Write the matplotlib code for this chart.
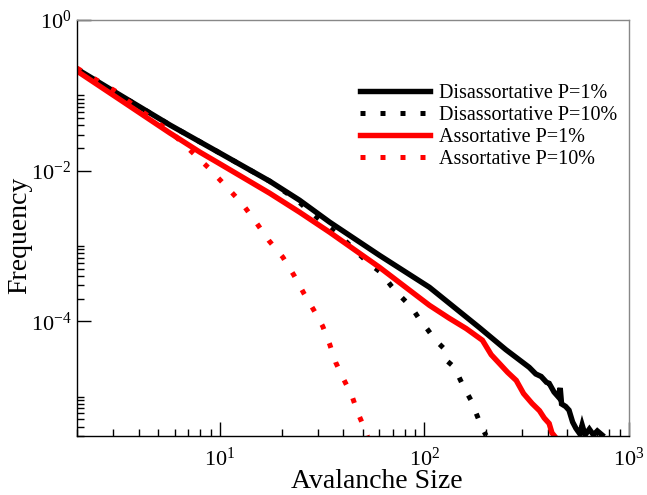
import matplotlib
matplotlib.use("Agg")
import matplotlib.pyplot as plt
from matplotlib.ticker import FixedLocator, LogFormatterSciNotation, NullFormatter
import numpy as np

plt.rcParams['font.family'] = ['Liberation Serif', 'DejaVu Serif']
plt.rcParams['mathtext.fontset'] = 'custom'
plt.rcParams['mathtext.rm'] = 'Liberation Serif'
plt.rcParams['axes.unicode_minus'] = False

# Disassortative P=1%
dis1_x = [2.0, 3.25, 5.7, 10, 17.5, 24.5, 34.4, 60.3, 105.7, 185, 250, 325, 350, 372, 395,
          407, 430, 450, 461, 468, 490, 509, 530, 550, 575, 590, 610, 640, 670, 700, 738]
dis1_y = [0.223, 0.1007, 0.0403, 0.0171, 0.00725, 0.00405, 0.00207, 7.5e-4, 2.83e-4, 8.3e-5,
          4.2e-5, 2.45e-5, 2.0e-5, 1.85e-5, 1.55e-5, 1.5e-5, 1.15e-5, 1.0e-5, 1.3e-5, 8.0e-6,
          7.4e-6, 6.6e-6, 4.6e-6, 3.8e-6, 3.2e-6, 4.2e-6, 3.1e-6, 3.7e-6, 3.1e-6, 3.5e-6, 3.1e-6]

# Disassortative P=10%
dis10_x = [2.0, 3.25, 5.7, 10, 17.5, 23.8, 28.1, 33.7, 39.8, 45.6, 52.7, 61.0, 69.0, 76.4,
           86.5, 94.6, 103.5, 113.2, 124, 128, 140, 155, 169, 179, 190, 200]
dis10_y = [0.223, 0.1007, 0.0403, 0.0171, 0.00725, 4.05e-3, 2.72e-3, 1.83e-3, 1.27e-3,
           8.8e-4, 6.1e-4, 4.48e-4, 2.92e-4, 2.15e-4, 1.53e-4, 1.06e-4, 7.8e-5, 5.6e-5,
           4.4e-5, 3.03e-5, 2.45e-5, 1.37e-5, 8.9e-6, 6.0e-6, 4.0e-6, 3.05e-6]

# Assortative P=1%
as1_x = [2.0, 3.25, 5.7, 7.98, 10, 17.5, 24.5, 34.4, 60.3, 105.7, 132, 160, 192, 212, 232,
         255, 281, 305, 336, 365, 385, 407, 420, 430]
as1_y = [0.21, 0.0873, 0.0315, 0.0176, 0.0123, 0.00502, 0.00281, 0.00152, 5.2e-4, 1.63e-4,
         1.1e-4, 8.0e-5, 5.6e-5, 3.6e-5, 2.77e-5, 2.1e-5, 1.64e-5, 1.1e-5, 8.1e-6, 6.5e-6,
         5.2e-6, 4.4e-6, 3.3e-6, 3.05e-6]

# Assortative P=10%
as10_x = [2.0, 2.45, 3.08, 3.77, 5.83, 7.14, 8.83, 10.7, 12.9, 15.0, 17.3, 20.3, 23.0, 25.7,
          28.8, 31.8, 34.4, 36.8, 40.3, 44.1, 47.1, 50.9, 52.7]
as10_y = [0.230, 0.164, 0.1138, 0.0742, 0.0315, 0.0187, 0.0108, 0.00622, 0.00359, 0.00207,
          0.00119, 7.1e-4, 4.09e-4, 2.36e-4, 1.40e-4, 8.6e-5, 4.95e-5, 2.85e-5, 1.69e-5,
          1.04e-5, 6.2e-6, 3.8e-6, 2.96e-6]

labels = ["Disassortative P=1%", "Disassortative P=10%", "Assortative P=1%", "Assortative P=10%"]

fig = plt.figure(figsize=(6.47, 4.95), dpi=100)
ax = fig.add_axes([77/647, 1-436/495, 552/647, 416/495])

lw_solid = 3.9
lw_dot = 3.6
ax.plot(dis1_x, dis1_y, color='black', lw=lw_solid, label=labels[0], solid_joinstyle='miter')
ax.plot(dis10_x, dis10_y, color='black', lw=lw_dot, ls=(0, (1, 3)), label=labels[1])
ax.plot(as1_x, as1_y, color='#ff0000', lw=lw_solid, label=labels[2], solid_joinstyle='miter')
ax.plot(as10_x, as10_y, color='#ff0000', lw=lw_dot, ls=(0, (1, 3)), label=labels[3])

ax.set_xscale('log')
ax.set_yscale('log')
ax.set_xlim(2, 1000)
ax.set_ylim(3e-6, 1)

ax.yaxis.set_major_locator(FixedLocator([1, 1e-2, 1e-4]))
yminor = [k * 10.0**e for e in (-2, -4, -6) for k in range(2, 11)]
ax.yaxis.set_minor_locator(FixedLocator(yminor))
ax.yaxis.set_minor_formatter(NullFormatter())
ax.yaxis.set_major_formatter(LogFormatterSciNotation())

ax.tick_params(which='both', direction='in', top=False, right=False, width=1, color='black')
ax.tick_params(which='major', length=10)
ax.tick_params(which='minor', length=5)
ax.tick_params(axis='x', which='major', labelsize=16, pad=8)
ax.tick_params(axis='y', which='major', labelsize=16, pad=4)

for s in ('left', 'bottom'):
    ax.spines[s].set_color('black')
    ax.spines[s].set_linewidth(1)
for s in ('top', 'right'):
    ax.spines[s].set_color('#888888')
    ax.spines[s].set_linewidth(1)

ax.set_xlabel("Avalanche Size", fontsize=20)
ax.set_ylabel("Frequency", fontsize=20)
ax.xaxis.set_label_coords((376.5-77)/552, (436-482)/416)
ax.xaxis.label.set_va('center')
ax.yaxis.set_label_coords((20-77)/552, (436-235)/416)
ax.yaxis.label.set_va('center')

leg = ax.legend(loc='center left', bbox_to_anchor=(360/647, 1-126.5/495),
                bbox_transform=fig.transFigure, frameon=False, fontsize=14.5,
                handlelength=3.5, handletextpad=0.4, labelspacing=0.15,
                borderpad=0, borderaxespad=0)

fig.savefig("out.png", dpi=100)
